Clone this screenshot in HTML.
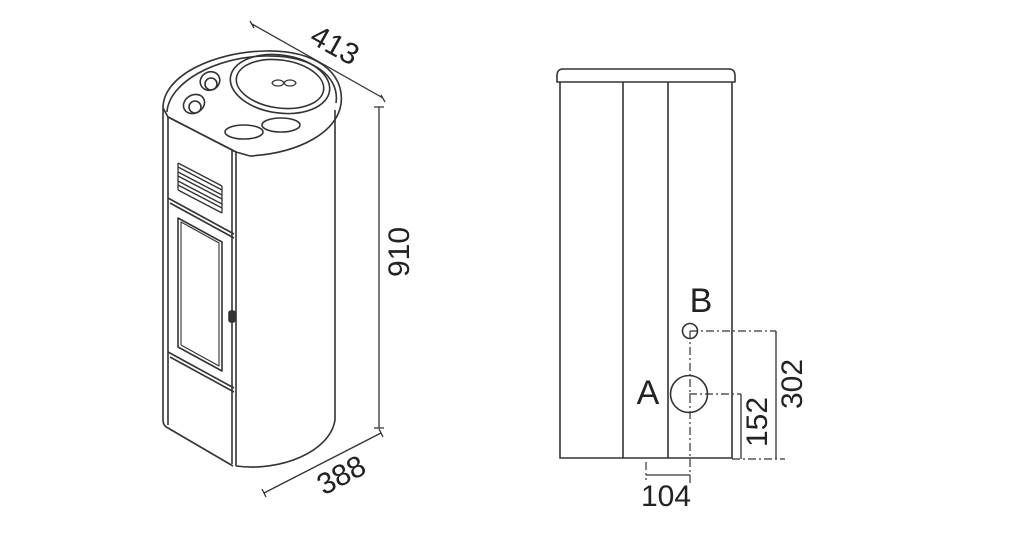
<!DOCTYPE html>
<html><head><meta charset="utf-8"><style>
html,body{margin:0;padding:0;background:#fff;width:1030px;height:538px;overflow:hidden}
svg{display:block}
text{font-family:"Liberation Sans",sans-serif;fill:#222}
</style></head><body>
<svg width="1030" height="538" viewBox="0 0 1030 538" xmlns="http://www.w3.org/2000/svg">
<g fill="none" stroke="#333" stroke-width="1.6" stroke-linejoin="round">
<!-- top surface -->
<path d="M163,108 C163,75 215,52 265,51 C315,50 345,72 341,104 C337,132 300,153 250,156 L236,152 L168,117 Z"/>
<path d="M167,112 C169,82 216,57 265,56 C312,55 340,76 336,103"/>
<ellipse cx="280" cy="84" rx="50" ry="29" transform="rotate(8 280 84)"/>
<ellipse cx="280" cy="84" rx="44" ry="24" transform="rotate(8 280 84)"/>
<path d="M272,83 c2,-4 10,-4 12,0 c2,4 10,4 12,0 c-2,-4 -10,-4 -12,0 c-2,4 -10,4 -12,0 z" stroke-width="1.3"/>
<ellipse cx="210" cy="81" rx="10" ry="9" transform="rotate(-30 210 81)"/>
<ellipse cx="211" cy="84" rx="6" ry="6"/>
<ellipse cx="194" cy="104" rx="11" ry="9" transform="rotate(-30 194 104)"/>
<ellipse cx="195" cy="107" rx="6" ry="6"/>
<ellipse cx="244" cy="132" rx="19" ry="7"/>
<ellipse cx="281" cy="125" rx="19" ry="7"/>
<!-- front panel -->
<path d="M163,108 L163,420 Q163,426 168,428 L233,466"/>
<path d="M168,117 L168,425"/>
<path d="M168,117 L236,152 L236,466"/>
<path d="M232,150 L232,464"/>
<path d="M236,466 C280,472 330,452 335,420 L335,110"/>
<!-- louvers -->
<g stroke-width="1.3">
<path d="M178,163 L222,186 M178,167 L222,190 M178,172 L222,195 M178,176 L222,199 M178,181 L222,204 M178,185 L222,208 M178,190 L222,213"/>
<path d="M178,163 L178,190 M222,186 L222,213"/>
</g>
<!-- door -->
<path d="M168,198 L234,234 M170,203 L234,238"/>
<path d="M178,218 L222,242 L222,371 L178,347 Z"/>
<path d="M181,222 L219,243 L219,366 L181,345 Z" stroke-width="1.1"/>
<path d="M168,352 L234,388 M170,357 L234,392"/>
<rect x="229" y="311" width="6" height="11" rx="2" fill="#333"/>
<!-- dims left -->
<g stroke-width="1.3">
<path d="M252,24 L383,98 M250,21 L254,28 M381,95 L385,102"/>
<path d="M379,107 L379,428 M374,107 L384,107 M374,428 L384,428"/>
<path d="M264,493 L381,433 M262,489 L266,497 M379,429 L383,437"/>
</g>
<!-- RIGHT VIEW -->
<path d="M563,69 L729,69 Q735,69 735,76 L735,82 L557,82 L557,76 Q557,69 563,69 Z"/>
<path d="M560,82 L560,458 L732,458 L732,82 M623,82 L623,458 M668,82 L668,458"/>
<circle cx="690" cy="331" r="7.5"/>
<circle cx="689" cy="394" r="18.5"/>
<g stroke-width="1.2" stroke-dasharray="8,3,2,3">
<path d="M690,331 L776,331 M689,394 L741,394 M690,331 L690,485 M732,459 L785,459 M646,462 L646,480"/>
</g>
<path d="M776,331 L776,459 M741,394 L741,459 M646,475 L690,475" stroke-width="1.3"/>
</g>
<text x="330" y="54" font-size="30" transform="rotate(29 330 54)" text-anchor="middle">413</text>
<text x="409" y="252" font-size="30" transform="rotate(-90 409 252)" text-anchor="middle">910</text>
<text x="346" y="484" font-size="30" transform="rotate(-28 346 484)" text-anchor="middle">388</text>
<text x="701" y="312" font-size="34" text-anchor="middle">B</text>
<text x="648" y="404" font-size="34" text-anchor="middle">A</text>
<text x="802" y="384" font-size="30" transform="rotate(-90 802 384)" text-anchor="middle">302</text>
<text x="767" y="422" font-size="30" transform="rotate(-90 767 422)" text-anchor="middle">152</text>
<text x="666" y="506" font-size="30" text-anchor="middle">104</text>
</svg>
</body></html>
